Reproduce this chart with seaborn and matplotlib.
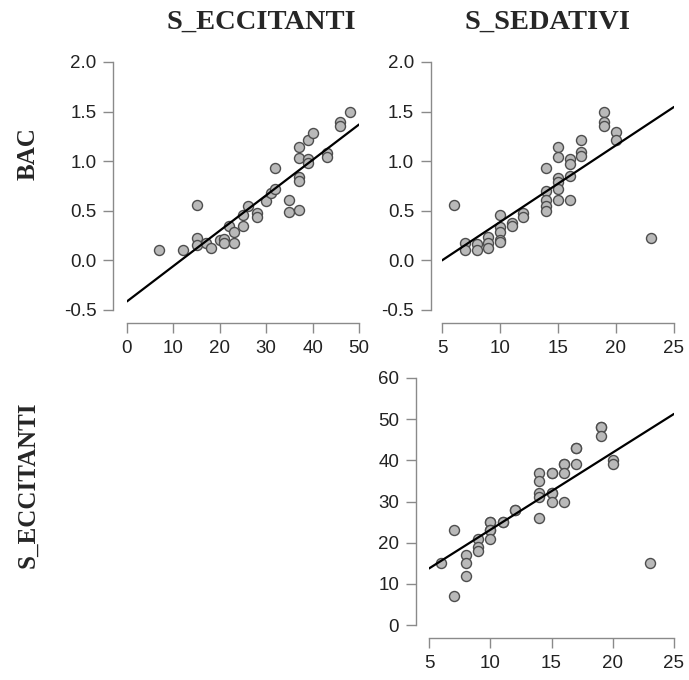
import matplotlib
matplotlib.use("Agg")
import matplotlib.pyplot as plt
import seaborn as sns
import numpy as np

# ---- data ----
ecc_p1 = [7, 12, 15, 15, 15, 17, 18, 20, 21, 21, 22, 23, 23, 25, 25, 26, 28, 28, 30, 31,
          32, 32, 35, 35, 37, 37, 37, 37, 37, 39, 39, 39, 40, 43, 43, 46, 46, 48]
bac_p1 = [0.10, 0.10, 0.56, 0.23, 0.16, 0.18, 0.13, 0.21, 0.22, 0.18, 0.35, 0.29, 0.18, 0.35,
          0.46, 0.55, 0.48, 0.44, 0.60, 0.68, 0.72, 0.93, 0.61, 0.49, 0.51, 0.84, 0.80, 1.03,
          1.14, 1.02, 0.98, 1.21, 1.28, 1.08, 1.04, 1.40, 1.35, 1.50]

sed_p2 = [6, 7, 7, 8, 8, 9, 9, 9, 10, 10, 10, 10, 10, 11, 11, 12, 12, 14, 14, 14, 14, 14,
          15, 15, 15, 15, 15, 15, 16, 16, 16, 16, 17, 17, 17, 19, 19, 19, 20, 20, 23]
bac_p2 = [0.56, 0.18, 0.10, 0.17, 0.10, 0.24, 0.18, 0.13, 0.46, 0.34, 0.29, 0.21, 0.19, 0.38,
          0.35, 0.48, 0.44, 0.93, 0.70, 0.61, 0.55, 0.50, 1.14, 1.04, 0.83, 0.79, 0.72, 0.61,
          1.02, 0.97, 0.85, 0.61, 1.21, 1.09, 1.05, 1.50, 1.40, 1.35, 1.29, 1.21, 0.23]

# includes points hidden under overlapping markers
sed_p3 = [6, 7, 7, 8, 8, 8, 9, 9, 9, 10, 10, 10, 10, 10, 11, 11, 12, 12, 14, 14, 14, 14, 14,
          15, 15, 15, 15, 15, 16, 16, 16, 16, 17, 17, 17, 19, 19, 19, 20, 20, 23]
ecc_p3 = [15, 23, 7, 17, 15, 12, 21, 19, 18, 25, 25, 23, 23, 21, 25, 25, 28, 28, 37, 35, 32,
          31, 26, 37, 37, 32, 32, 30, 39, 39, 37, 30, 43, 43, 39, 48, 48, 46, 40, 39, 15]

col_titles = ["S_ECCITANTI", "S_SEDATIVI"]
row_titles = ["BAC", "S_ECCITANTI"]
bac_ticks = [-0.5, 0.0, 0.5, 1.0, 1.5, 2.0]
ecc_xticks = [0, 10, 20, 30, 40, 50]
sed_ticks = [5, 10, 15, 20, 25]
ecc_yticks = [0, 10, 20, 30, 40, 50, 60]

# ---- style ----
sns.set_style("white")
plt.rcParams["font.family"] = ["Liberation Sans", "DejaVu Sans"]

W, H = 689, 680
fig = plt.figure(figsize=(W / 100, H / 100), dpi=100)

def add_axes(x0, x1, ytop, ybot):
    return fig.add_axes([x0 / W, 1 - ybot / H, (x1 - x0) / W, (ybot - ytop) / H])

ax1 = add_axes(127, 359, 62, 310)
ax2 = add_axes(442, 674, 62, 310)
ax3 = add_axes(429, 674, 378, 625)

scatter_kws = dict(s=52, facecolor="#b9b9b9", edgecolor="#4d4d4d", linewidths=1.0,
                   alpha=1, clip_on=False, zorder=3)
line_kws = dict(color="black", lw=1.6, zorder=4)

panels = [
    (ax1, ecc_p1, bac_p1, (0, 50), (-0.5, 2.0), ecc_xticks, bac_ticks, "%.1f", 10, 9.5),
    (ax2, sed_p2, bac_p2, (5, 25), (-0.5, 2.0), sed_ticks, bac_ticks, "%.1f", 8, 9.5),
    (ax3, sed_p3, ecc_p3, (5, 25), (0, 60), sed_ticks, ecc_yticks, "%d", 9.5, 9.5),
]

for ax, xs, ys, xl, yl, xt, yt, yfmt, off_l, off_b in panels:
    ax.set_xlim(*xl)
    ax.set_ylim(*yl)
    sns.regplot(x=np.array(xs, float), y=np.array(ys, float), ax=ax, ci=None,
                truncate=False, scatter_kws=scatter_kws, line_kws=line_kws)
    ax.set_xlim(*xl)
    ax.set_ylim(*yl)
    ax.set_xticks(xt)
    ax.set_yticks(yt)
    ax.set_yticklabels([yfmt % v for v in yt])
    ax.set_xlabel("")
    ax.set_ylabel("")
    for s in ["top", "right"]:
        ax.spines[s].set_visible(False)
    for s, off in [("left", off_l), ("bottom", off_b)]:
        ax.spines[s].set_visible(True)
        ax.spines[s].set_position(("outward", off))
        ax.spines[s].set_color("#8a8a8a")
        ax.spines[s].set_linewidth(1.0)
    ax.tick_params(axis="both", which="major", direction="out", length=7, width=1.0,
                   color="#8a8a8a", labelsize=13.5, labelcolor="#222222", pad=5,
                   left=True, bottom=True)
    ax.grid(False)
    ax.patch.set_alpha(0)

serif = ["Liberation Serif", "DejaVu Serif"]
fig.text(261 / W, 1 - 22 / H, col_titles[0], ha="center", va="center",
         fontsize=20.5, fontweight="bold", family=serif)
fig.text(547 / W, 1 - 22 / H, col_titles[1], ha="center", va="center",
         fontsize=20.5, fontweight="bold", family=serif)
fig.text(28 / W, 1 - 154 / H, row_titles[0], ha="center", va="center", rotation=90,
         fontsize=18, fontweight="bold", family=serif)
fig.text(28 / W, 1 - 485 / H, row_titles[1], ha="center", va="center", rotation=90,
         fontsize=18, fontweight="bold", family=serif)

fig.savefig("out.png", dpi=100, facecolor="white")
